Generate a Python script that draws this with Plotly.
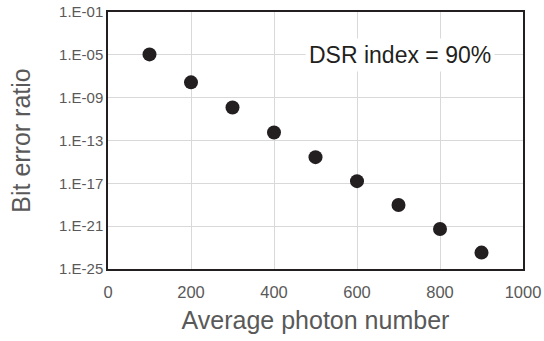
import plotly.graph_objects as go

photon_number = [100, 200, 300, 400, 500, 600, 700, 800, 900]
bit_error_ratio = [1.1e-5, 2.7e-8, 1.2e-10, 5.6e-13, 2.8e-15, 1.6e-17, 9.5e-20, 5.5e-22, 3.4e-24]
y_tick_vals = [1e-1, 1e-5, 1e-9, 1e-13, 1e-17, 1e-21, 1e-25]
y_tick_text = ["1.E-01", "1.E-05", "1.E-09", "1.E-13", "1.E-17", "1.E-21", "1.E-25"]
x_tick_vals = [0, 200, 400, 600, 800, 1000]

font_family = "Liberation Sans, Arial, sans-serif"
grey = "#595959"

fig = go.Figure()
fig.add_trace(go.Scatter(
    x=photon_number, y=bit_error_ratio, mode="markers",
    marker=dict(size=14, color="#231f20"), showlegend=False,
))

fig.add_annotation(
    x=704, y=-5, xref="x", yref="y", text="DSR index = 90%",
    showarrow=False, font=dict(family=font_family, size=23, color="#231f20"),
    bgcolor="white", borderpad=3,
)

fig.update_layout(
    width=544, height=341,
    margin=dict(l=108, r=21, t=12, b=72, autoexpand=False),
    paper_bgcolor="white", plot_bgcolor="white",
    font=dict(family=font_family, color=grey),
)
fig.update_xaxes(
    range=[0, 1000], tickvals=x_tick_vals, showgrid=True, gridcolor="#d9d9d9",
    showline=True, linecolor="#231f20", linewidth=1.5, mirror=True,
    tickfont=dict(size=16.5, color=grey), ticks="outside", ticklen=7,
    tickcolor="rgba(0,0,0,0)", zeroline=False, automargin=False,
    title=dict(text="Average photon number", font=dict(size=25, color=grey), standoff=12),
)
fig.update_yaxes(
    type="log", range=[-25, -1], tickvals=y_tick_vals, ticktext=y_tick_text,
    showgrid=True, gridcolor="#d9d9d9",
    showline=True, linecolor="#231f20", linewidth=1.5, mirror=True,
    tickfont=dict(size=15, color=grey), ticks="", zeroline=False, automargin=False,
    ticklabeloverflow="allow",
    title=dict(text="Bit error ratio", font=dict(size=25, color=grey), standoff=21),
)

# remove the page's default 8px body margin so the figure fills the window
fig.write_html(
    "out.html",
    config={"displayModeBar": False},
    post_script="document.body.style.margin='0';",
)
